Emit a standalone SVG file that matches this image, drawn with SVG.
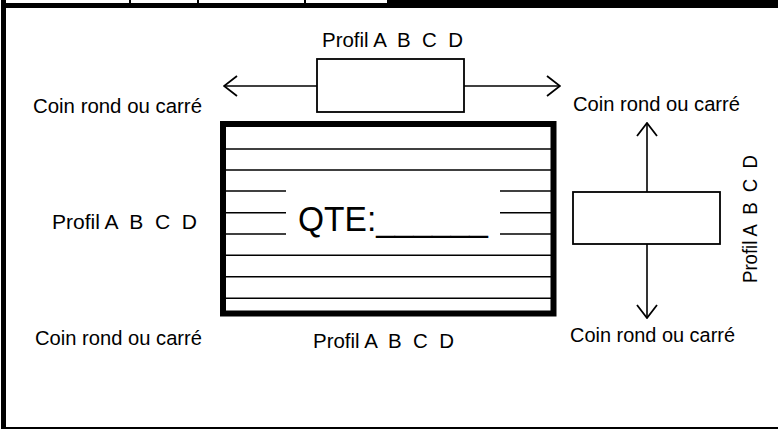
<svg xmlns="http://www.w3.org/2000/svg" width="778" height="429" viewBox="0 0 778 429">
  <style>
    .t { font-family: "Liberation Sans", Arial, sans-serif; font-size: 20.5px; fill: #000; white-space: pre; }
    .q { font-family: "Liberation Sans", Arial, sans-serif; font-size: 35px; fill: #000; white-space: pre; }
    .thin { stroke: #000; stroke-width: 1.6; fill: none; }
    .box { stroke: #000; stroke-width: 1.8; fill: #fff; }
    .conn { stroke: #000; stroke-width: 1.6; fill: none; }
  </style>
  <defs>
    <marker id="open" viewBox="-1 -12 16 24" refX="14" refY="0" markerWidth="16" markerHeight="24" markerUnits="userSpaceOnUse" orient="auto-start-reverse">
      <path d="M1,-10 L14,0 L1,10" fill="none" stroke="#000" stroke-width="1.8"/>
    </marker>
  </defs>
  <rect x="0" y="0" width="778" height="429" fill="#fff"/>
  <g id="frame">
    <rect x="6" y="3" width="772" height="5" fill="#000"/>
    <rect x="387" y="0" width="391" height="8" fill="#000"/>
    <rect x="129" y="0" width="2" height="3" fill="#000"/>
    <rect x="197" y="0" width="2" height="3" fill="#000"/>
    <rect x="304" y="0" width="2" height="3" fill="#000"/>
    <rect x="1" y="0" width="5" height="429" fill="#000"/>
    <rect x="6" y="427" width="772" height="2" fill="#000"/>
  </g>
  <g id="connectors">
    <line class="conn" x1="224" y1="86" x2="317" y2="86" marker-start="url(#open)"/>
    <line class="conn" x1="464" y1="86" x2="560" y2="86" marker-end="url(#open)"/>
    <line class="conn" x1="647" y1="123" x2="647" y2="192" marker-start="url(#open)"/>
    <line class="conn" x1="647" y1="244" x2="647" y2="318" marker-end="url(#open)"/>
  </g>
  <g id="top-profile">
    <rect class="box" x="317" y="59" width="147" height="53"/>
  </g>
  <g id="side-profile">
    <rect class="box" x="573" y="192" width="147" height="52"/>
  </g>
  <g id="main-panel">
    <rect x="223" y="124" width="330.5" height="189.5" fill="#fff" stroke="#000" stroke-width="6"/>
    <line class="thin" x1="226" y1="149" x2="551" y2="149"/>
    <line class="thin" x1="226" y1="170" x2="551" y2="170"/>
    <line class="thin" x1="226" y1="191" x2="286" y2="191"/>
    <line class="thin" x1="500" y1="191" x2="551" y2="191"/>
    <line class="thin" x1="226" y1="212.7" x2="286" y2="212.7"/>
    <line class="thin" x1="500" y1="212.7" x2="551" y2="212.7"/>
    <line class="thin" x1="226" y1="234" x2="286" y2="234"/>
    <line class="thin" x1="500" y1="234" x2="551" y2="234"/>
    <line class="thin" x1="226" y1="255.3" x2="551" y2="255.3"/>
    <line class="thin" x1="226" y1="276.7" x2="551" y2="276.7"/>
    <line class="thin" x1="226" y1="298.3" x2="551" y2="298.3"/>
    <text class="q" x="298" y="231" textLength="190" lengthAdjust="spacingAndGlyphs">QTE:______</text>
  </g>
  <g id="labels">
    <text class="t" x="322" y="47" textLength="141" lengthAdjust="spacingAndGlyphs">Profil A  B  C  D</text>
    <text class="t" x="33" y="112.5" textLength="169" lengthAdjust="spacingAndGlyphs">Coin rond ou carré</text>
    <text class="t" x="573" y="110.5" textLength="167" lengthAdjust="spacingAndGlyphs">Coin rond ou carré</text>
    <text class="t" x="52" y="229" textLength="145" lengthAdjust="spacingAndGlyphs">Profil A  B  C  D</text>
    <text class="t" x="35" y="345" textLength="167" lengthAdjust="spacingAndGlyphs">Coin rond ou carré</text>
    <text class="t" x="313" y="347.5" textLength="141" lengthAdjust="spacingAndGlyphs">Profil A  B  C  D</text>
    <text class="t" x="570" y="342" textLength="165" lengthAdjust="spacingAndGlyphs">Coin rond ou carré</text>
    <text class="t" transform="translate(757,283) rotate(-90)" x="0" y="0" textLength="128" lengthAdjust="spacingAndGlyphs">Profil A  B  C  D</text>
  </g>
</svg>
